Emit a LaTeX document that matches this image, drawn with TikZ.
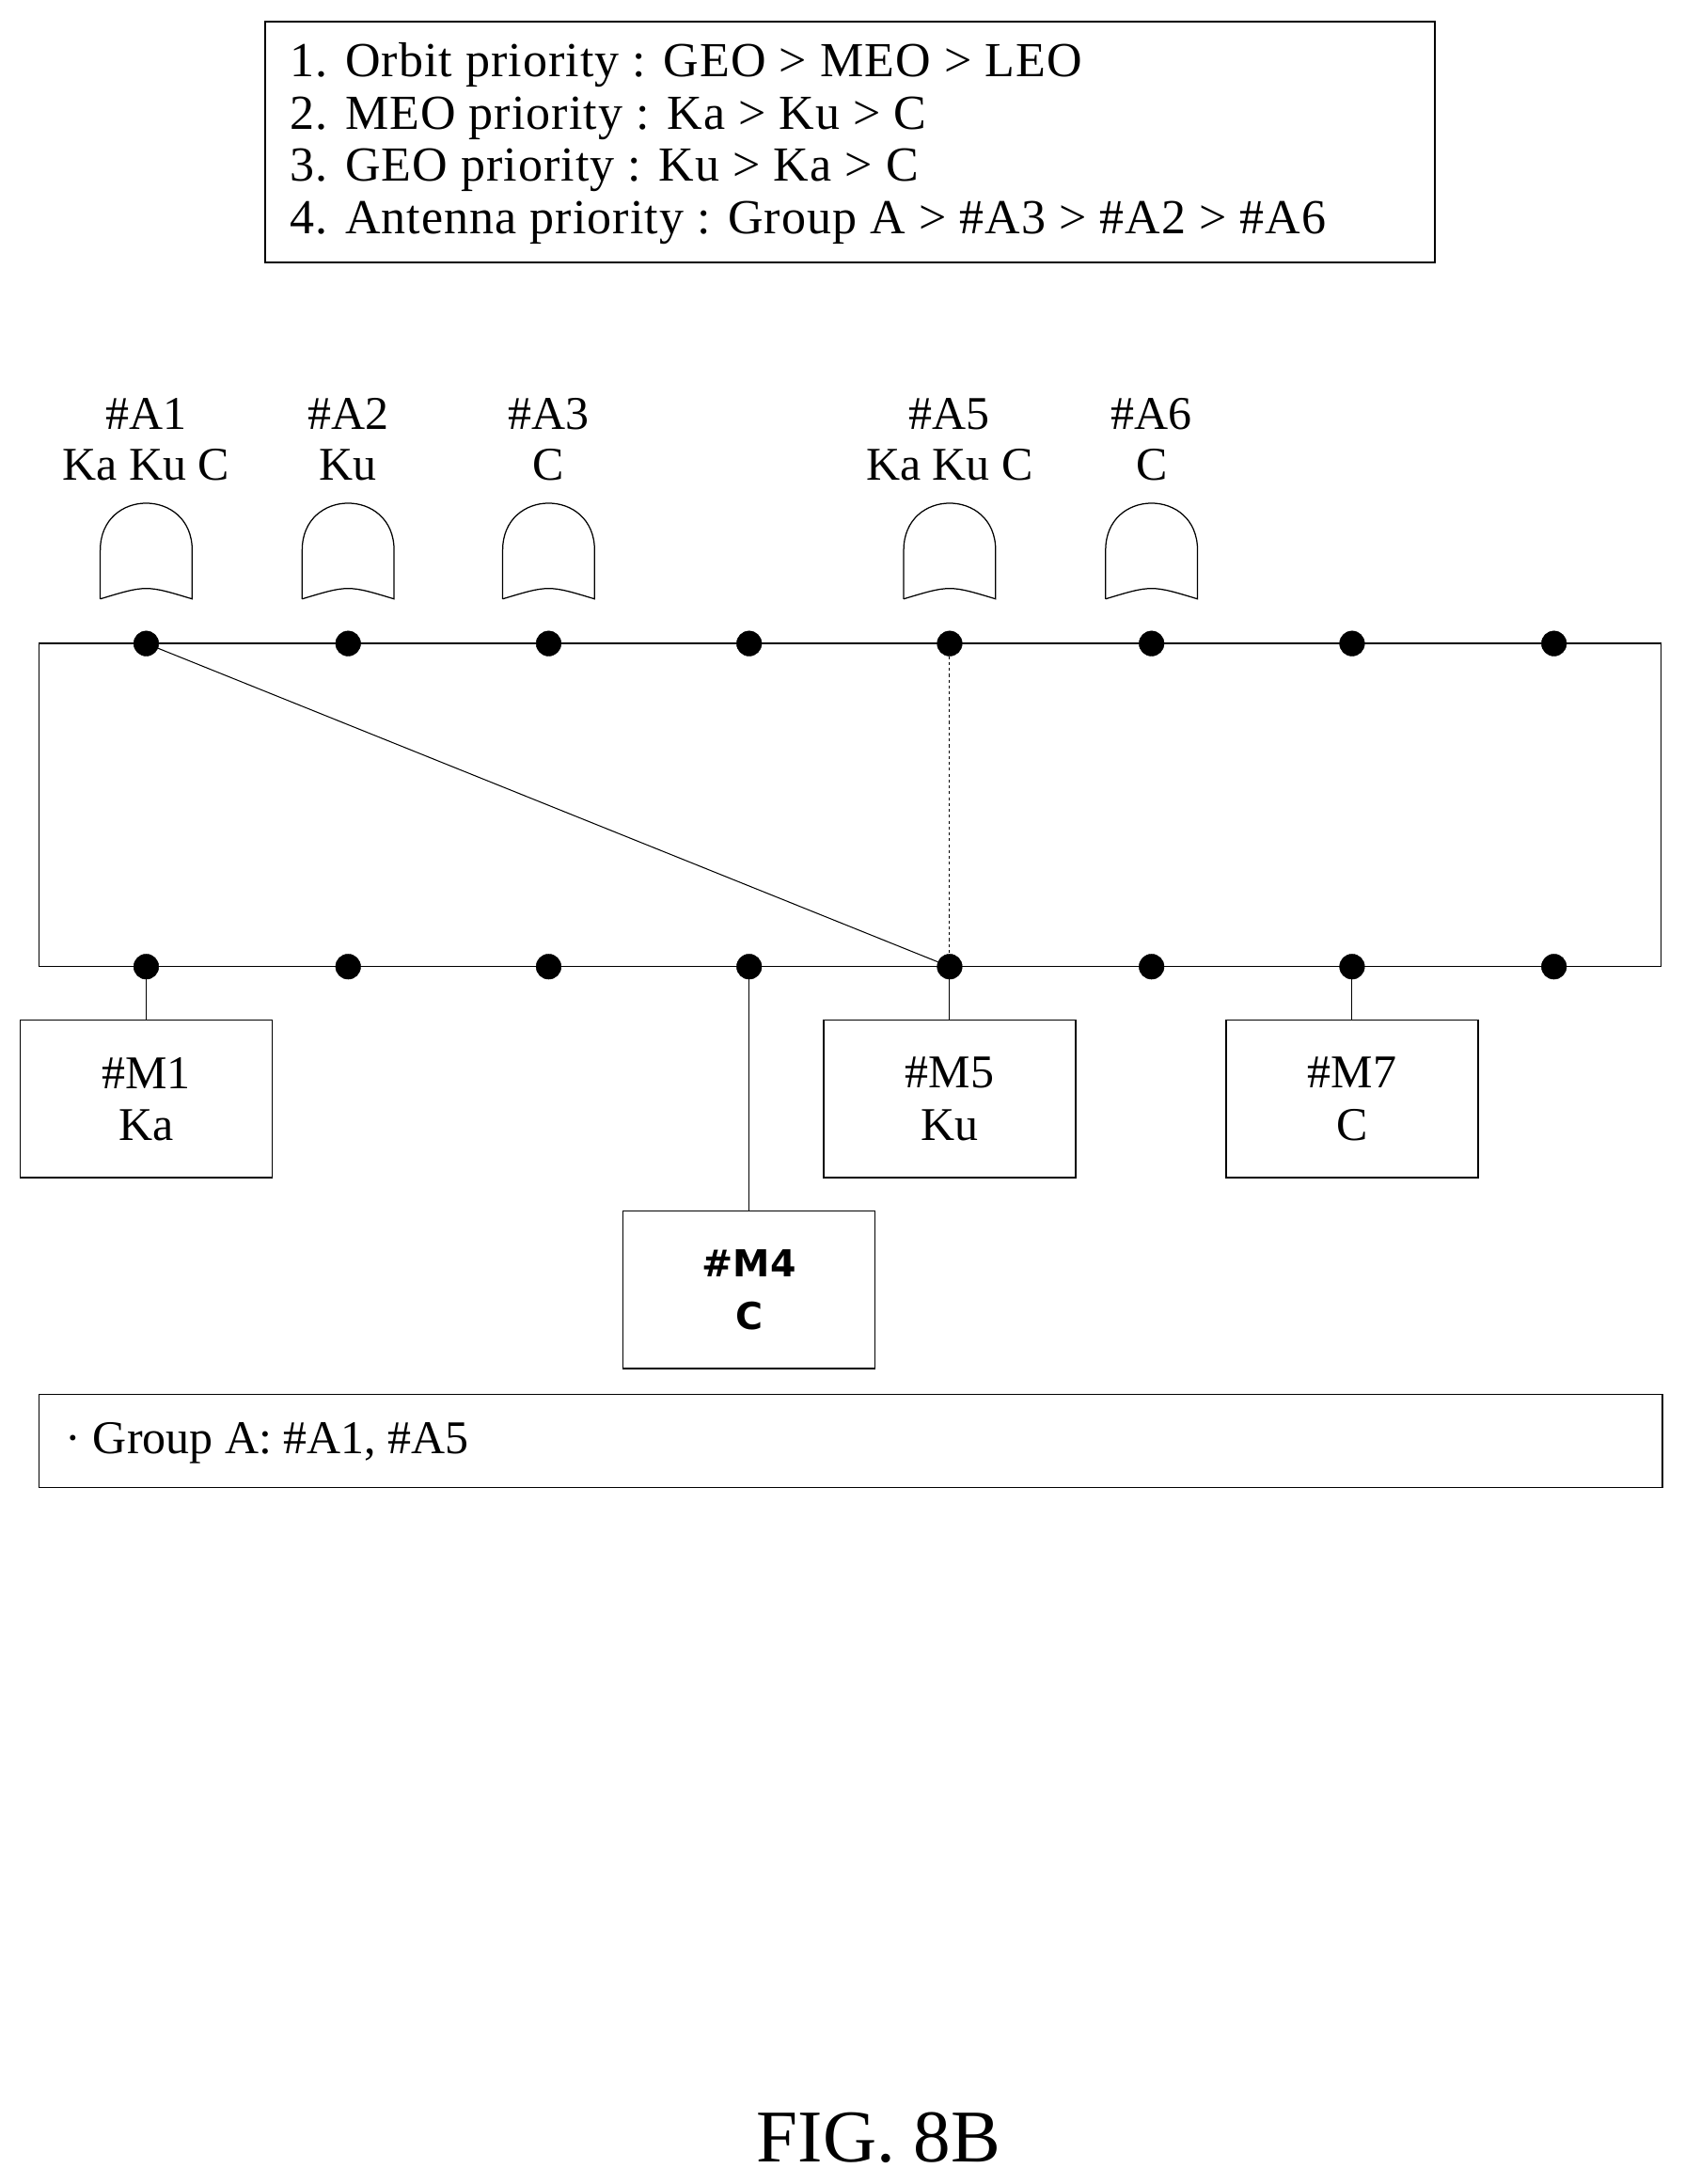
\documentclass[tikz,border=0pt]{standalone}
\usepackage{fontspec}
\setmainfont{Liberation Serif}
\newfontfamily\mysans{DejaVu Sans}
\begin{document}
\begin{tikzpicture}[x=0.05cm,y=-0.05cm,
  txt/.style={font=\fontsize{48}{53}\selectfont,inner sep=0},
  dot/.style={circle,fill=black,draw=black,minimum size=0.9cm,inner sep=0},
  bx/.style={draw,line width=1.4pt,minimum width=9.05cm,minimum height=5.65cm,align=center,font=\fontsize{48}{53}\selectfont},
  ln/.style={line width=1pt}]
\useasboundingbox (0,0) rectangle (1210,1568);
\node[draw,line width=1.4pt,minimum width=42cm,minimum height=8.65cm,anchor=north west,inner sep=0] (pr) at (190,15) {};
\node[txt,anchor=west,align=left,font=\addfontfeatures{LetterSpace=2}\fontsize{50}{53.5}\selectfont] at (208,103) {1. Orbit priority : GEO > MEO > LEO\\2. MEO priority : Ka > Ku > C\\3. GEO priority : Ku > Ka > C\\4. Antenna priority : Group A > \#A3 > \#A2 > \#A6};
\draw[line width=1.4pt] (28,462) rectangle (1193,694);
\foreach \x [count=\i] in {105,250,394,538,682,827,971,1116}{
  \node[dot] (t\i) at (\x,462) {};
  \node[dot] (b\i) at (\x,694) {};}
\foreach \x/\a/\b in {105/\#A1/Ka Ku C,250/\#A2/Ku,394/\#A3/C,682/\#A5/Ka Ku C,827/\#A6/C}{
  \node[txt] at (\x,297) {\a};
  \node[txt] at (\x,334) {\b};
  \draw[line width=1.2pt] (\x-33,430) -- (\x-33,395) .. controls (\x-33,350) and (\x+33,350) .. (\x+33,395) -- (\x+33,430) .. controls (\x,420) .. (\x-33,430);}
\draw[ln] (t1) -- (b5);
\draw[ln,dashed] (t5) -- (b5);
\node[bx] (m1) at (105,789) {\#M1\\Ka};
\node[bx] (m5) at (682,789) {\#M5\\Ku};
\node[bx] (m7) at (971,789) {\#M7\\C};
\node[bx,font=\mysans\bfseries\fontsize{38}{53}\selectfont] (m4) at (538,926) {\#M4\\C};
\draw[ln] (b1) -- (m1); \draw[ln] (b5) -- (m5); \draw[ln] (b7) -- (m7); \draw[ln] (b4) -- (m4);
\draw[line width=1.4pt] (28,1001) rectangle (1194,1068);
\node[txt,anchor=west] (g) at (47,1036) {· Group A: \#A1, \#A5};
\node[txt,font=\fontsize{76}{80}\selectfont] (f) at (631,1535) {FIG. 8B};
\end{tikzpicture}
\end{document}
